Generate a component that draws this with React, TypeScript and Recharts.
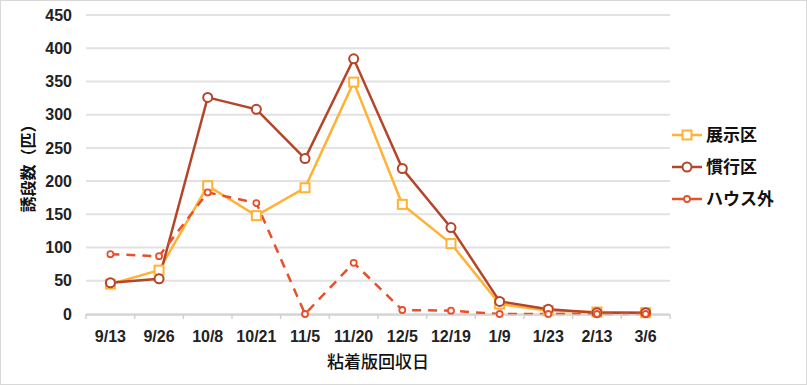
import { CartesianGrid, Legend, Line, LineChart, XAxis, YAxis } from "recharts";

const dates = ["9/13", "9/26", "10/8", "10/21", "11/5", "11/20", "12/5", "12/19", "1/9", "1/23", "2/13", "3/6"];
const demo = [45, 66, 193, 148, 190, 349, 165, 106, 15, 5, 3, 2];
const conventional = [47, 53, 326, 308, 234, 384, 219, 130, 19, 7, 2, 2];
const outside = [90, 87, 183, 167, 0, 77, 6, 5, 0, 0, 0, 0];
const yTicks = [0, 50, 100, 150, 200, 250, 300, 350, 400, 450];
const edgeTicks = [0, 1, 2, 3, 4, 5, 6, 7, 8, 9, 10, 11, 12];

const series = [
  { key: "demo", name: "展示区", color: "#FFB233", dash: undefined, shape: "square" },
  { key: "conv", name: "慣行区", color: "#B5452A", dash: undefined, shape: "circle" },
  { key: "out", name: "ハウス外", color: "#E8502A", dash: "9 7", shape: "small" }
];

const data = dates.map((d, i) => ({
  date: d,
  idx: i + 0.5,
  demo: demo[i],
  conv: conventional[i],
  out: outside[i]
}));

const jp = "'Noto Sans CJK JP', 'Liberation Sans', sans-serif";
const num = "'Liberation Sans', Arial, sans-serif";

function Marker({ cx, cy, color, shape }: { cx: number; cy: number; color: string; shape: string }) {
  if (cx == null || cy == null) return null;
  if (shape === "square")
    return <rect x={cx - 4.5} y={cy - 4.5} width={9} height={9} fill="#fff" stroke={color} strokeWidth={2} />;
  if (shape === "circle") return <circle cx={cx} cy={cy} r={4.5} fill="#fff" stroke={color} strokeWidth={2} />;
  return <circle cx={cx} cy={cy} r={3} fill="#fff" stroke={color} strokeWidth={1.8} />;
}

function LegendBox() {
  return (
    <svg width={120} height={100}>
      {series.map((s, i) => {
        const y = 14 + i * 32;
        return (
          <g key={s.key}>
            <line x1={0} x2={30} y1={y} y2={y} stroke={s.color} strokeWidth={2.5} />
            <Marker cx={15} cy={y} color={s.color} shape={s.shape} />
            <text x={34} y={y + 6} fontFamily={jp} fontSize={17} fontWeight={700} fill="#111">
              {s.name}
            </text>
          </g>
        );
      })}
    </svg>
  );
}

export default function App() {
  return (
    <div
      style={{
        position: "absolute",
        left: 0,
        top: 0,
        width: 807,
        height: 385,
        border: "1px solid #d8d8d8",
        boxSizing: "border-box",
        background: "#fff"
      }}
    >
      <LineChart width={805} height={383} data={data} margin={{ top: 14, right: 16, bottom: 10, left: 0 }}>
        <CartesianGrid xAxisId="main" horizontal vertical={false} stroke="#e2e2e2" strokeWidth={2} />
        <XAxis
          xAxisId="edges"
          type="number"
          dataKey="idx"
          domain={[0, 12]}
          ticks={edgeTicks}
          tick={() => <g />}
          height={1}
          axisLine={false}
          tickLine={{ stroke: "#d0d0d0", strokeWidth: 1.5 }}
          tickSize={5}
        />
        <XAxis
          xAxisId="main"
          dataKey="date"
          height={59}
          padding={{ left: 24.4, right: 24.4 }}
          tickLine={false}
          axisLine={{ stroke: "#d0d0d0", strokeWidth: 1.5 }}
          tickSize={0}
          tickMargin={16}
          interval={0}
          tick={{ fontFamily: num, fontSize: 16, fontWeight: 700, fill: "#222" }}
          label={{
            value: "粘着版回収日",
            position: "insideBottom",
            offset: 6,
            style: { fontFamily: jp, fontSize: 17, fontWeight: 500, fill: "#111" }
          }}
        />
        <YAxis
          width={85}
          domain={[0, 450]}
          ticks={yTicks}
          axisLine={false}
          tickLine={false}
          tickSize={0}
          tickMargin={14}
          tick={{ fontFamily: num, fontSize: 16, fontWeight: 700, fill: "#222" }}
          label={{
            value: "誘段数（匹）",
            angle: -90,
            position: "insideLeft",
            offset: 27,
            style: { textAnchor: "middle", fontFamily: jp, fontSize: 16, fontWeight: 700, fill: "#111" }
          }}
        />
        <Legend
          layout="vertical"
          align="right"
          verticalAlign="top"
          wrapperStyle={{ top: 120, right: 14 }}
          content={() => <LegendBox />}
        />
        {series.map((s) => (
          <Line
            key={s.key}
            xAxisId="main"
            dataKey={s.key}
            name={s.name}
            type="linear"
            stroke={s.color}
            strokeWidth={2.5}
            strokeDasharray={s.dash}
            dot={(p: any) => <Marker key={`${s.key}-${p.index}`} cx={p.cx} cy={p.cy} color={s.color} shape={s.shape} />}
            activeDot={false}
            isAnimationActive={false}
          />
        ))}
      </LineChart>
    </div>
  );
}
